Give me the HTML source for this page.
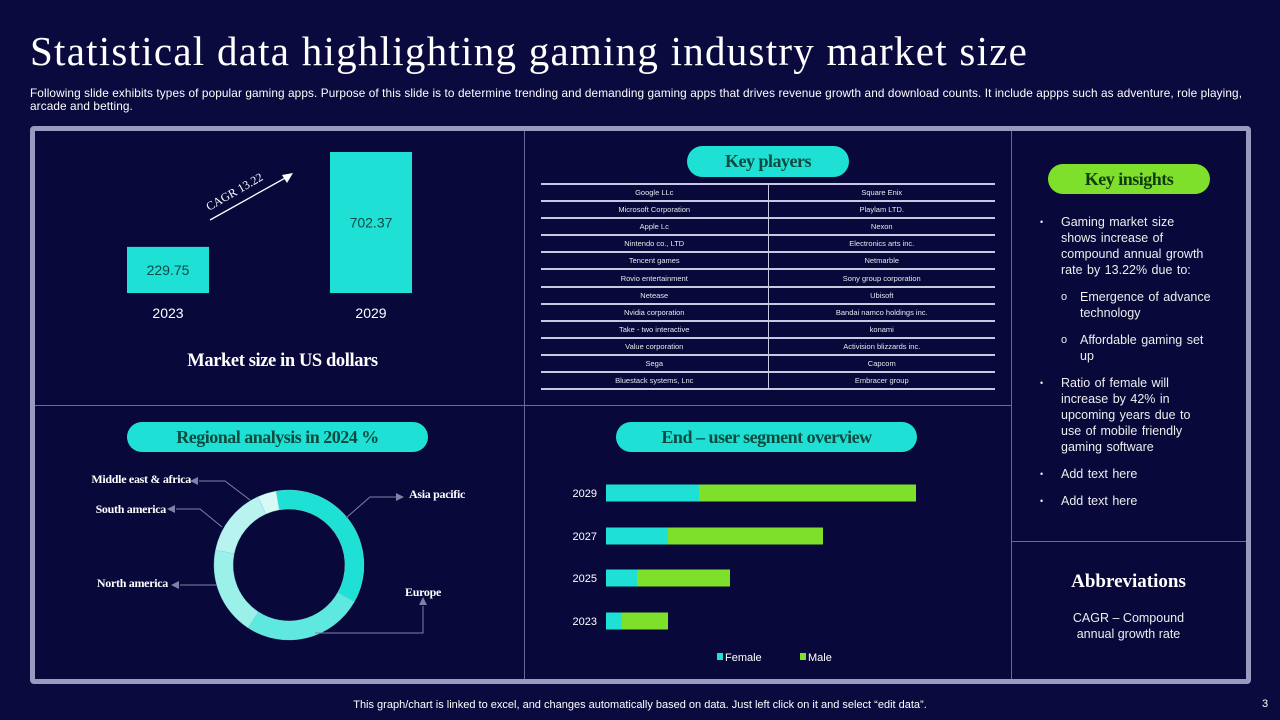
<!DOCTYPE html>
<html><head><meta charset="utf-8"><style>
*{margin:0;padding:0;box-sizing:border-box}
body{width:1280px;height:720px;background:#0a0a3e;position:relative;overflow:hidden;font-family:"Liberation Sans",sans-serif;color:#fff}
.a{position:absolute}
.serif{font-family:"Liberation Serif",serif}
.pill{position:absolute;border-radius:16px;text-align:center;font-family:"Liberation Serif",serif;font-weight:bold;color:#0d4a40;font-size:18px;letter-spacing:-0.5px}
.tbl{position:absolute;left:541px;top:183px;width:454px;border-collapse:collapse}
.tbl td{height:17.1px;font-size:7.5px;text-align:center;border-top:2px solid #c8c8e0;color:#e8e8f0;width:50%;padding:0}
.tbl tr:last-child td{border-bottom:2px solid #c8c8e0}
.tbl td:first-child{border-right:1.5px solid #c8c8e0}
ul.ins{position:absolute;left:1040px;top:214px;width:172px;font-size:12.5px;line-height:16px;color:#eee;list-style:none;word-spacing:1px}
ul.ins>li{position:relative;padding-left:21px;margin-bottom:11px}
ul.ins>li:before{content:"•";position:absolute;left:0;font-size:9px}
ul.sub{list-style:none;margin-top:11px;width:160px}
ul.sub li{position:relative;padding-left:19px;margin-bottom:11px}
ul.sub li:last-child{margin-bottom:0}
ul.sub li:before{content:"o";position:absolute;left:0;font-size:11px}
</style></head><body>
<div class="a serif" style="left:30px;top:27px;font-size:41px;letter-spacing:1.25px;white-space:nowrap">Statistical data highlighting gaming industry market size</div>
<div class="a" style="left:30px;top:87px;width:1240px;font-size:11.8px;line-height:13px;letter-spacing:0.1px;white-space:nowrap">Following slide exhibits types of popular gaming apps. Purpose of this slide is to determine trending and demanding gaming apps that drives revenue growth and download counts. It include appps such as adventure, role playing,<br>arcade and betting.</div>
<div class="a" style="left:30px;top:126px;width:1221px;height:558px;border:5px solid #9a9ac0;border-radius:4px;background:#08083a"></div>
<div class="a" style="left:524px;top:131px;width:1px;height:548px;background:#6a6a9a"></div>
<div class="a" style="left:1011px;top:131px;width:1px;height:548px;background:#6a6a9a"></div>
<div class="a" style="left:35px;top:405px;width:976px;height:1px;background:#6a6a9a"></div>
<div class="a" style="left:1011px;top:541px;width:235px;height:1px;background:#6a6a9a"></div>

<div class="pill" style="left:687px;top:146px;width:162px;height:31px;line-height:31px;background:#1ee0d4">Key players</div>
<table class="tbl">
<tr><td>Google  LLc</td><td>Square Enix</td></tr>
<tr><td>Microsoft Corporation</td><td>Playlam LTD.</td></tr>
<tr><td>Apple Lc</td><td>Nexon</td></tr>
<tr><td>Nintendo co., LTD</td><td>Electronics arts inc.</td></tr>
<tr><td>Tencent games</td><td>Netmarble</td></tr>
<tr><td>Rovio entertainment</td><td>Sony group corporation</td></tr>
<tr><td>Netease</td><td>Ubisoft</td></tr>
<tr><td>Nvidia corporation</td><td>Bandai  namco holdings inc.</td></tr>
<tr><td>Take  - two interactive</td><td>konami</td></tr>
<tr><td>Value corporation</td><td>Activision blizzards inc.</td></tr>
<tr><td>Sega</td><td>Capcom</td></tr>
<tr><td>Bluestack systems, Lnc</td><td>Embracer group</td></tr>
</table>

<div class="pill" style="left:1048px;top:164px;width:162px;height:30px;line-height:30px;background:#7ee02a;color:#123a10">Key insights</div>
<ul class="ins">
<li>Gaming market size shows increase of compound annual growth rate by 13.22% due to:
<ul class="sub"><li>Emergence of advance technology</li><li>Affordable gaming set up</li></ul></li>
<li>Ratio of female will increase by 42% in upcoming years due to use of mobile friendly gaming software</li>
<li>Add text here</li>
<li>Add text here</li>
</ul>
<div class="a serif" style="left:1011px;top:571px;width:235px;text-align:center;font-size:19px;font-weight:bold">Abbreviations</div>
<div class="a" style="left:1011px;top:610px;width:235px;text-align:center;font-size:12.5px;line-height:16px;color:#eee">CAGR – Compound<br>annual growth rate</div>

<div class="pill" style="left:127px;top:422px;width:301px;height:30px;line-height:30px;background:#1ee0d4">Regional analysis in 2024 %</div>
<div class="pill" style="left:616px;top:422px;width:301px;height:30px;line-height:30px;background:#1ee0d4">End – user segment overview</div>
<div class="a serif" style="left:140px;top:351px;width:285px;text-align:center;font-size:18.5px;font-weight:bold;letter-spacing:-0.4px">Market size in US dollars</div>

<svg class="a" style="left:0;top:0" width="1280" height="720" id="svg"></svg>

<div class="a" style="left:0;top:699px;width:1280px;text-align:center;font-size:11px">This graph/chart is linked to excel, and changes automatically based on data. Just left click on it and select “edit data”.</div>
<div class="a" style="left:1262px;top:698px;font-size:11px">3</div>

<script>
const marketYears=["2023","2029"];
const marketValues=[229.75,702.37];
const regions=["Asia pacific","Europe","North america","South america","Middle east & africa"];
const regionShares=[36,26,19,15,4];
const segYears=["2023","2025","2027","2029"];
const femaleVals=[1,2,4,6];
const maleVals=[3,6,10,14];

const NS="http://www.w3.org/2000/svg";
const svg=document.getElementById('svg');
function mk(tag,attrs,parent){const e=document.createElementNS(NS,tag);for(const k in attrs)e.setAttribute(k,attrs[k]);(parent||svg).appendChild(e);return e;}

const mBase=293, mScale=141/702.37, mX=[127,330], mW=82;
marketValues.forEach((v,i)=>{
  const h=v*mScale;
  const r=mk('rect',{x:mX[i],y:mBase-h,width:mW,height:h,fill:'#1ee0d4'});
  
  
  const t=mk('text',{x:mX[i]+mW/2,y:mBase-h/2+5,'text-anchor':'middle','font-size':14,fill:'#0d4a48','font-family':'Liberation Sans, sans-serif'});
  t.textContent=v.toFixed(2);
  
  
  const y=mk('text',{x:mX[i]+mW/2,y:318,'text-anchor':'middle','font-size':14,fill:'#fff','font-family':'Liberation Sans, sans-serif'});
  y.textContent=marketYears[i];
  
  
});
const arr=mk('g',{});


mk('line',{x1:210,y1:220,x2:287,y2:177,stroke:'#fff','stroke-width':1.3},arr);
mk('polygon',{points:'293,173 282,175 287,183',fill:'#fff'},arr);
const ct=mk('text',{x:0,y:0,'font-size':12,fill:'#fff','font-family':'Liberation Serif, serif',transform:'translate(209,211) rotate(-30)'});
ct.textContent='CAGR 13.22';



const cx=289,cy=565,R=75,r0=56;
const cols=['#1ee0d4','#5ee8df','#9cf0ea','#b8f3ef','#d8faf7'];
const total=regionShares.reduce((a,b)=>a+b,0);
let ang=-10;
regionShares.forEach((v,i)=>{
  const a0=ang, a1=ang+v/total*360; ang=a1;
  const p=(a,rr)=>{const t=(a-90)*Math.PI/180;return [cx+rr*Math.cos(t),cy+rr*Math.sin(t)];};
  const lg=(a1-a0)>180?1:0;
  const [x0,y0]=p(a0,R),[x1,y1]=p(a1,R),[x2,y2]=p(a1,r0),[x3,y3]=p(a0,r0);
  const s=mk('path',{d:`M${x0},${y0} A${R},${R} 0 ${lg} 1 ${x1},${y1} L${x2},${y2} A${r0},${r0} 0 ${lg} 0 ${x3},${y3}Z`,fill:cols[i],stroke:'#7fd8d0','stroke-width':0.4});
  
  
});
const leaders=[
 {pts:'346,518 370,497 398,497',ax:398,ay:497,dir:'r',lx:409,ly:498,anchor:'start'},
 {pts:'315,633 423,633 423,606',ax:423,ay:603,dir:'u',lx:423,ly:596,anchor:'middle'},
 {pts:'217,585 180,585',ax:177,ay:585,dir:'l',lx:168,ly:587,anchor:'end'},
 {pts:'222,527 200,509 176,509',ax:173,ay:509,dir:'l',lx:166,ly:513,anchor:'end'},
 {pts:'250,500 225,481 199,481',ax:196,ay:481,dir:'l',lx:191,ly:483,anchor:'end'}
];
leaders.forEach((L,i)=>{
  const g=mk('g',{});
  
  
  mk('polyline',{points:L.pts,fill:'none',stroke:'#8080a8','stroke-width':1},g);
  let tri;
  if(L.dir==='r')tri=`${L.ax+6},${L.ay} ${L.ax-2},${L.ay-4} ${L.ax-2},${L.ay+4}`;
  else if(L.dir==='l')tri=`${L.ax-6},${L.ay} ${L.ax+2},${L.ay-4} ${L.ax+2},${L.ay+4}`;
  else tri=`${L.ax},${L.ay-6} ${L.ax-4},${L.ay+2} ${L.ax+4},${L.ay+2}`;
  mk('polygon',{points:tri,fill:'#8080a8'},g);
  const t=mk('text',{x:L.lx,y:L.ly,'text-anchor':L.anchor,'font-size':12,'font-weight':'bold',fill:'#fff','font-family':'Liberation Serif, serif','letter-spacing':'-0.3'},g);
  t.textContent=regions[i];
});

const bX0=606, bUnit=15.5, bH=17, rowY={"2029":493,"2027":536,"2025":578,"2023":621};
segYears.forEach((yr,i)=>{
  const yc=rowY[yr];
  const fw=femaleVals[i]*bUnit, mw=maleVals[i]*bUnit;
  const f=mk('rect',{x:bX0,y:yc-bH/2,width:fw,height:bH,fill:'#1ee0d4'});
  
  
  const m=mk('rect',{x:bX0+fw,y:yc-bH/2,width:mw,height:bH,fill:'#7ee02a'});
  
  
  const t=mk('text',{x:597,y:yc+4,'text-anchor':'end','font-size':11,fill:'#fff','font-family':'Liberation Sans, sans-serif'});
  t.textContent=yr;
  
  
});
const lg=mk('g',{});


mk('rect',{x:717,y:653,width:6,height:7,fill:'#1ee0d4'},lg);
const lf=mk('text',{x:725,y:661,'font-size':11,fill:'#fff','font-family':'Liberation Sans, sans-serif'},lg);lf.textContent='Female';
mk('rect',{x:800,y:653,width:6,height:7,fill:'#7ee02a'},lg);
const lm=mk('text',{x:808,y:661,'font-size':11,fill:'#fff','font-family':'Liberation Sans, sans-serif'},lg);lm.textContent='Male';
</script>
</body></html>
